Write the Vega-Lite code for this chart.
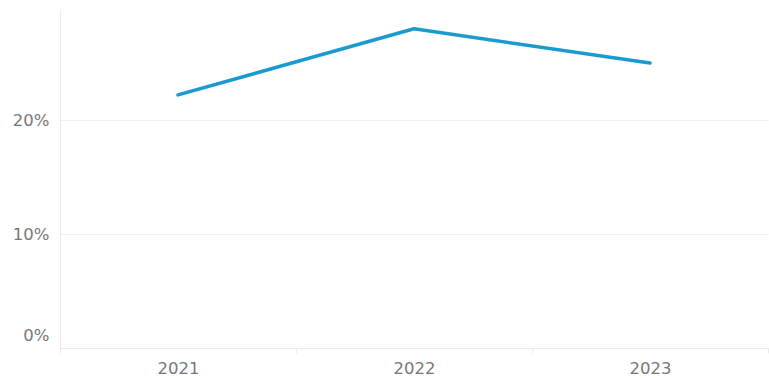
{
  "$schema": "https://vega.github.io/schema/vega-lite/v6.json",
  "autosize": "none",
  "width": 708,
  "height": 338,
  "padding": {"left": 60, "top": 10, "right": 1, "bottom": 30},
  "background": "white",
  "config": {"view": {"stroke": null}},
  "data": {"values": [
    {"year": "2021", "share": 0.222},
    {"year": "2022", "share": 0.280},
    {"year": "2023", "share": 0.250}
  ]},
  "mark": {"type": "line", "color": "#1b9ad0", "strokeWidth": 3.5, "strokeCap": "round", "strokeJoin": "round"},
  "encoding": {
    "x": {
      "field": "year", "type": "ordinal",
      "scale": {"type": "band", "paddingInner": 0, "paddingOuter": 0},
      "axis": {
        "title": null, "labelAngle": 0, "grid": false,
        "domain": true, "domainColor": "#ebebeb", "domainWidth": 1,
        "ticks": true, "tickBand": "extent", "tickColor": "#ebebeb", "tickSize": 5,
        "labelFont": "DejaVu Sans", "labelFontSize": 16.5, "labelColor": "#777777",
        "labelPadding": 7
      }
    },
    "y": {
      "field": "share", "type": "quantitative",
      "scale": {"domain": [0, 0.2965], "nice": false, "zero": true},
      "axis": {
        "title": null, "format": ".0%", "values": [0, 0.1, 0.2],
        "grid": true, "gridColor": "#efefef", "gridWidth": 1,
        "domain": true, "domainColor": "#ebebeb",
        "ticks": false,
        "labelFont": "DejaVu Sans", "labelFontSize": 16.5, "labelColor": "#777777",
        "labelPadding": 11, "labelBaseline": "middle",
        "labelOffset": {"condition": {"test": "datum.value === 0", "value": -13}, "value": 0}
      }
    }
  }
}
